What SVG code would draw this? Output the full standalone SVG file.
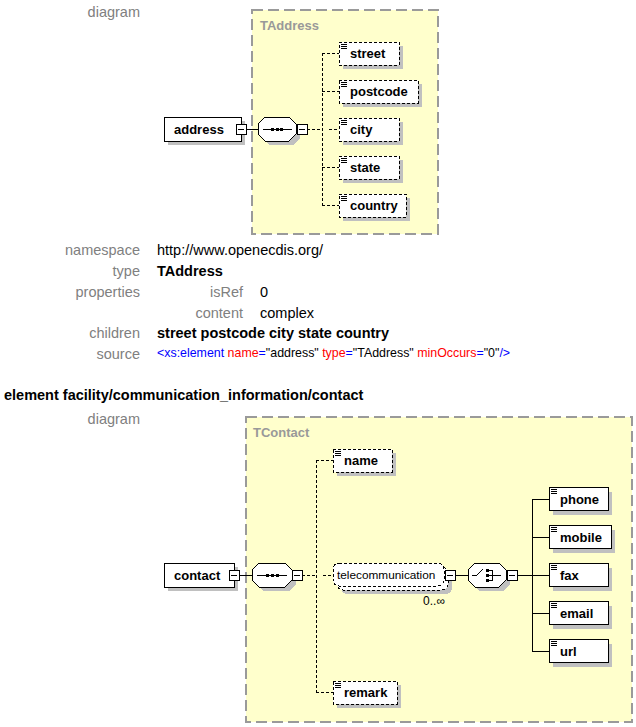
<svg xmlns="http://www.w3.org/2000/svg" width="636" height="727" viewBox="0 0 636 727">
<defs>
<style>
rect,line,polygon,path{shape-rendering:crispEdges}
.lbl{font-family:"Liberation Sans",Arial,sans-serif;font-size:14.5px;fill:#808080;text-anchor:end}
.val{font-family:"Liberation Sans",Arial,sans-serif;font-size:14.5px;fill:#000}
.b{font-weight:bold}
.frame{fill:#FFFFCC;stroke:#9A9A9A;stroke-width:1.5;stroke-dasharray:11,5}
.ftitle{font-family:"Liberation Sans",Arial,sans-serif;font-size:13px;font-weight:bold;fill:#999}
.shadow{fill:#C0C0C0;stroke:none}
.box{fill:#fff;stroke:#000;stroke-width:1}
.dbox{fill:#fff;stroke:#000;stroke-width:1;stroke-dasharray:3,2}
.ntext{font-family:"Liberation Sans",Arial,sans-serif;font-size:13px;font-weight:bold;fill:#000}
.rtext{font-family:"Liberation Sans",Arial,sans-serif;font-size:11.8px;fill:#000}
.ln{stroke:#000;stroke-width:1;fill:none}
.dln{stroke:#000;stroke-width:1;fill:none;stroke-dasharray:3,2}
.blue{fill:#0000FF}.red{fill:#FF0000}.blk{fill:#000}
</style>
<g id="minus"><rect x="0" y="0" width="10" height="10" fill="#fff" stroke="#000"/><line x1="2" y1="5" x2="8" y2="5" stroke="#000"/></g>
<g id="icon"><line x1="0" y1="0.5" x2="6" y2="0.5" stroke="#000"/><line x1="0" y1="2.5" x2="6" y2="2.5" stroke="#000"/><line x1="0" y1="4.5" x2="6" y2="4.5" stroke="#000"/></g>
</defs>
<rect width="636" height="727" fill="#fff"/>

<!-- first section -->
<text class="lbl" x="140" y="17">diagram</text>
<g id="TAddress">
<rect class="frame" x="252" y="10" width="186" height="224"/>
<text class="ftitle" x="260" y="30">TAddress</text>
</g>

<g id="connectors1">
<line class="ln" x1="246" y1="129" x2="258" y2="129"/>
<line class="dln" x1="307" y1="129" x2="322" y2="129"/>
<line class="dln" x1="322" y1="53" x2="322" y2="205"/>
<line class="dln" x1="322" y1="53" x2="339" y2="53"/>
<line class="dln" x1="322" y1="91" x2="339" y2="91"/>
<line class="dln" x1="322" y1="167" x2="339" y2="167"/>
<line class="dln" x1="322" y1="205" x2="339" y2="205"/>
<line class="dln" x1="329" y1="129" x2="339" y2="129"/>
</g>

<g id="address">
<rect class="shadow" x="168" y="121" width="77" height="24"/>
<rect class="box" x="164" y="117" width="77" height="24"/>
<text class="ntext" x="174" y="133.5">address</text>
<use href="#minus" x="236" y="124"/>
</g>

<g id="seq1">
<polygon class="shadow" points="269,121 293,121 300,128 300,138 293,145 269,145 262,138 262,128"/>
<polygon class="box" points="265,117 289,117 296,124 296,134 289,141 265,141 258,134 258,124"/>
<line class="ln" x1="263" y1="129" x2="292" y2="129"/>
<rect x="271" y="127.5" width="3" height="3" fill="#000"/>
<rect x="275.5" y="127.5" width="3" height="3" fill="#000"/>
<rect x="280" y="127.5" width="3" height="3" fill="#000"/>
<use href="#minus" x="297" y="124"/>
</g>

<g id="street">
<rect class="shadow" x="343" y="46" width="60" height="23"/>
<rect class="dbox" x="339" y="42" width="60" height="23"/>
<use href="#icon" x="341" y="44"/>
<text class="ntext" x="350" y="57.5">street</text>
</g>
<g id="postcode">
<rect class="shadow" x="343" y="84" width="79" height="23"/>
<rect class="dbox" x="339" y="80" width="79" height="23"/>
<use href="#icon" x="341" y="82"/>
<text class="ntext" x="350" y="95.5">postcode</text>
</g>
<g id="city">
<rect class="shadow" x="343" y="122" width="60" height="23"/>
<rect class="dbox" x="339" y="118" width="60" height="23"/>
<use href="#icon" x="341" y="120"/>
<text class="ntext" x="350" y="133.5">city</text>
</g>
<g id="state">
<rect class="shadow" x="343" y="160" width="60" height="23"/>
<rect class="dbox" x="339" y="156" width="60" height="23"/>
<use href="#icon" x="341" y="158"/>
<text class="ntext" x="350" y="171.5">state</text>
</g>
<g id="country">
<rect class="shadow" x="343" y="198" width="67" height="23"/>
<rect class="dbox" x="339" y="194" width="67" height="23"/>
<use href="#icon" x="341" y="196"/>
<text class="ntext" x="350" y="209.5">country</text>
</g>

<g id="info">
<text class="lbl" x="140" y="255">namespace</text>
<text class="val" x="157" y="255">http://www.openecdis.org/</text>
<text class="lbl" x="140" y="276">type</text>
<text class="val b" x="157" y="276">TAddress</text>
<text class="lbl" x="140" y="297">properties</text>
<text class="lbl" x="243" y="297">isRef</text>
<text class="val" x="260" y="297">0</text>
<text class="lbl" x="243" y="318">content</text>
<text class="val" x="260" y="318">complex</text>
<text class="lbl" x="140" y="338">children</text>
<text class="val b" x="157" y="338">street postcode city state country</text>
<text class="lbl" x="140" y="359">source</text>
<text x="157" y="357" style="font-family:'Liberation Sans',Arial,sans-serif;font-size:12.4px"><tspan class="blue">&lt;xs:element</tspan><tspan class="red"> name</tspan><tspan class="blue">=</tspan><tspan class="blk">"address"</tspan><tspan class="red"> type</tspan><tspan class="blue">=</tspan><tspan class="blk">"TAddress"</tspan><tspan class="red"> minOccurs</tspan><tspan class="blue">=</tspan><tspan class="blk">"0"</tspan><tspan class="blue">/&gt;</tspan></text>
</g>

<!-- second section -->
<text class="val b" x="4" y="400">element facility/communication_information/contact</text>
<text class="lbl" x="140" y="424">diagram</text>

<g id="TContact">
<rect class="frame" x="246" y="417" width="386" height="305"/>
<text class="ftitle" x="253" y="437">TContact</text>
</g>

<g id="connectors2">
<line class="ln" x1="239" y1="575" x2="252" y2="575"/>
<line class="dln" x1="302" y1="575" x2="316" y2="575"/>
<line class="dln" x1="316" y1="460" x2="316" y2="692"/>
<line class="dln" x1="316" y1="460" x2="333" y2="460"/>
<line class="dln" x1="323" y1="575" x2="333" y2="575"/>
<line class="dln" x1="316" y1="692" x2="333" y2="692"/>
<line class="ln" x1="455" y1="575" x2="468" y2="575"/>
<line class="ln" x1="517" y1="575" x2="532" y2="575"/>
<line class="ln" x1="532" y1="499" x2="532" y2="651"/>
<line class="ln" x1="532" y1="499" x2="549" y2="499"/>
<line class="ln" x1="532" y1="537" x2="549" y2="537"/>
<line class="ln" x1="532" y1="575" x2="549" y2="575"/>
<line class="ln" x1="532" y1="613" x2="549" y2="613"/>
<line class="ln" x1="532" y1="651" x2="549" y2="651"/>
</g>

<g id="contact">
<rect class="shadow" x="168" y="567" width="70" height="24"/>
<rect class="box" x="164" y="563" width="70" height="24"/>
<text class="ntext" x="174" y="579.5">contact</text>
<use href="#minus" x="229" y="570"/>
</g>

<g id="seq2">
<polygon class="shadow" points="263,567 289,567 296,574 296,584 289,591 263,591 256,584 256,574"/>
<polygon class="box" points="259,563 285,563 292,570 292,580 285,587 259,587 252,580 252,570"/>
<line class="ln" x1="257" y1="575" x2="287" y2="575"/>
<rect x="265.5" y="573.5" width="3" height="3" fill="#000"/>
<rect x="270.5" y="573.5" width="3" height="3" fill="#000"/>
<rect x="275.5" y="573.5" width="3" height="3" fill="#000"/>
<use href="#minus" x="292" y="570"/>
</g>

<g id="name">
<rect class="shadow" x="337" y="453" width="59" height="23"/>
<rect class="dbox" x="333" y="449" width="59" height="23"/>
<use href="#icon" x="335" y="451"/>
<text class="ntext" x="344" y="464.5">name</text>
</g>

<g id="telecommunication">
<rect class="shadow" x="341" y="571" width="111" height="23" rx="6"/>
<rect class="dbox" x="337" y="567" width="111" height="23" rx="6"/>
<rect class="dbox" x="333" y="563" width="111" height="23" rx="6"/>
<text class="rtext" x="337" y="579">telecommunication</text>
<use href="#minus" x="445" y="570"/>
<text x="445" y="605" text-anchor="end" style="font-family:'Liberation Sans',Arial,sans-serif;font-size:12px;fill:#000">0..∞</text>
</g>

<g id="choice">
<polygon class="shadow" points="479,567 503,567 510,574 510,584 503,591 479,591 472,584 472,574"/>
<polygon class="box" points="475,563 499,563 506,570 506,580 499,587 475,587 468,580 468,570"/>
<path class="ln" d="M472,575 H477 L483,569"/>
<rect x="485.5" y="568.5" width="3" height="3" fill="#000"/>
<rect x="485.5" y="573.5" width="3" height="3" fill="#000"/>
<rect x="485.5" y="578.5" width="3" height="3" fill="#000"/>
<path class="ln" d="M489,570 H492 V580 H489 M489,575 H501"/>
<use href="#minus" x="507" y="570"/>
</g>

<g id="phone">
<rect class="shadow" x="553" y="491.5" width="59" height="23"/>
<rect class="box" x="549" y="487.5" width="59" height="23"/>
<use href="#icon" x="551" y="489"/>
<text class="ntext" x="560" y="503.5">phone</text>
</g>
<g id="mobile">
<rect class="shadow" x="553" y="529.5" width="62" height="23"/>
<rect class="box" x="549" y="525.5" width="62" height="23"/>
<use href="#icon" x="551" y="527"/>
<text class="ntext" x="560" y="541.5">mobile</text>
</g>
<g id="fax">
<rect class="shadow" x="553" y="567.5" width="59" height="23"/>
<rect class="box" x="549" y="563.5" width="59" height="23"/>
<use href="#icon" x="551" y="565"/>
<text class="ntext" x="560" y="579.5">fax</text>
</g>
<g id="email">
<rect class="shadow" x="553" y="605.5" width="59" height="23"/>
<rect class="box" x="549" y="601.5" width="59" height="23"/>
<use href="#icon" x="551" y="603"/>
<text class="ntext" x="560" y="617.5">email</text>
</g>
<g id="url">
<rect class="shadow" x="553" y="643.5" width="59" height="23"/>
<rect class="box" x="549" y="639.5" width="59" height="23"/>
<use href="#icon" x="551" y="641"/>
<text class="ntext" x="560" y="655.5">url</text>
</g>

<g id="remark">
<rect class="shadow" x="337" y="685" width="64" height="23"/>
<rect class="dbox" x="333" y="681" width="64" height="23"/>
<use href="#icon" x="335" y="683"/>
<text class="ntext" x="344" y="696.5">remark</text>
</g>
</svg>
